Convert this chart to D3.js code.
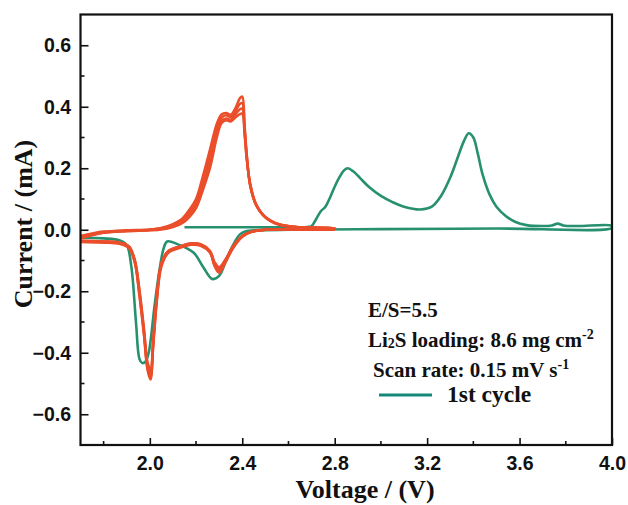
<!DOCTYPE html>
<html>
<head>
<meta charset="utf-8">
<script src="https://cdn.jsdelivr.net/npm/d3@7"></script>
<style>
  html, body { margin: 0; padding: 0; background: #fff; }
  svg { display: block; }
</style>
</head>
<body>
<div id="chart"></div>
<script>
// ---- data ----
const xTicks = [2.0, 2.4, 2.8, 3.2, 3.6, 4.0];
const xMinor = [1.8, 2.2, 2.6, 3.0, 3.4, 3.8];
const yTicks = [-0.6, -0.4, -0.2, 0.0, 0.2, 0.4, 0.6];
const yMinor = [-0.5, -0.3, -0.1, 0.1, 0.3, 0.5];

// 1st cycle (scan order: 2.15 V -> 4.0 V -> 1.7 V)
const cycle1V = [2.15, 2.40, 2.60, 2.68, 2.70, 2.72, 2.74, 2.76, 2.78, 2.80, 2.82, 2.84, 2.857, 2.88, 2.91, 2.95, 3.00, 3.05, 3.10, 3.17, 3.22, 3.26, 3.30, 3.33, 3.36, 3.38, 3.40, 3.42, 3.44, 3.47, 3.50, 3.54, 3.58, 3.63, 3.70, 3.74, 3.765, 3.79, 3.85, 4.00,
  4.00, 3.50, 3.00, 2.60, 2.45, 2.42, 2.39, 2.36, 2.33, 2.30, 2.27, 2.23, 2.19, 2.13, 2.075, 2.06, 2.04, 2.02, 1.995, 1.98, 1.966, 1.955, 1.94, 1.92, 1.90, 1.87, 1.80, 1.70];
const cycle1I = [0.008, 0.008, 0.008, 0.009, 0.012, 0.035, 0.06, 0.075, 0.105, 0.14, 0.17, 0.193, 0.200, 0.19, 0.168, 0.138, 0.11, 0.09, 0.075, 0.066, 0.075, 0.11, 0.17, 0.23, 0.29, 0.314, 0.30, 0.245, 0.18, 0.115, 0.075, 0.045, 0.026, 0.015, 0.012, 0.014, 0.02, 0.014, 0.012, 0.013,
  0.006, 0.004, 0.002, 0.0, -0.002, -0.004, -0.015, -0.05, -0.10, -0.15, -0.16, -0.12, -0.075, -0.05, -0.038, -0.06, -0.14, -0.25, -0.40, -0.43, -0.433, -0.42, -0.30, -0.12, -0.05, -0.035, -0.028, -0.026];

// following cycles (scan order: 1.7 V -> 2.8 V -> 1.7 V)
const laterV = [1.70, 1.75, 1.80, 1.90, 2.00, 2.05, 2.10, 2.14, 2.17, 2.20, 2.23, 2.26, 2.29, 2.31, 2.33, 2.35, 2.37, 2.39, 2.40, 2.41, 2.42, 2.435, 2.46, 2.50, 2.56, 2.65, 2.80,
  2.80, 2.60, 2.50, 2.44, 2.40, 2.36, 2.33, 2.30, 2.28, 2.26, 2.22, 2.18, 2.13, 2.08, 2.05, 2.03, 2.015, 2.003, 1.99, 1.975, 1.955, 1.935, 1.91, 1.87, 1.80, 1.70];
const cycle2I = [-0.020, -0.012, -0.006, -0.002, 0.001, 0.006, 0.018, 0.036, 0.064, 0.10, 0.175, 0.26, 0.345, 0.375, 0.38, 0.374, 0.395, 0.428, 0.433, 0.34, 0.24, 0.14, 0.08, 0.04, 0.016, 0.008, 0.004,
  0.002, 0.002, 0.0, -0.006, -0.02, -0.055, -0.095, -0.128, -0.11, -0.07, -0.048, -0.045, -0.055, -0.07, -0.11, -0.22, -0.36, -0.465, -0.44, -0.33, -0.20, -0.10, -0.055, -0.042, -0.038, -0.036];
const cycle3I = [-0.022, -0.014, -0.008, -0.003, 0.0, 0.005, 0.015, 0.031, 0.056, 0.09, 0.16, 0.24, 0.33, 0.364, 0.372, 0.366, 0.385, 0.41, 0.412, 0.33, 0.235, 0.142, 0.081, 0.041, 0.017, 0.008, 0.004,
  0.002, 0.002, 0.0, -0.007, -0.022, -0.058, -0.10, -0.135, -0.115, -0.072, -0.05, -0.047, -0.057, -0.073, -0.115, -0.23, -0.37, -0.478, -0.45, -0.34, -0.21, -0.105, -0.058, -0.044, -0.040, -0.038];
const cycle4I = [-0.025, -0.016, -0.009, -0.004, -0.001, 0.003, 0.012, 0.026, 0.048, 0.08, 0.145, 0.22, 0.315, 0.354, 0.362, 0.358, 0.375, 0.392, 0.394, 0.32, 0.23, 0.145, 0.082, 0.041, 0.017, 0.008, 0.004,
  0.002, 0.002, 0.0, -0.007, -0.023, -0.06, -0.102, -0.14, -0.118, -0.074, -0.052, -0.049, -0.059, -0.075, -0.12, -0.235, -0.375, -0.487, -0.455, -0.345, -0.215, -0.108, -0.06, -0.046, -0.042, -0.040];
const cycle5I = [-0.028, -0.018, -0.010, -0.005, -0.002, 0.001, 0.009, 0.021, 0.04, 0.07, 0.13, 0.20, 0.30, 0.346, 0.356, 0.352, 0.365, 0.376, 0.378, 0.31, 0.225, 0.147, 0.083, 0.042, 0.018, 0.008, 0.004,
  0.002, 0.002, 0.0, -0.006, -0.02, -0.054, -0.093, -0.122, -0.105, -0.068, -0.047, -0.044, -0.054, -0.069, -0.108, -0.215, -0.355, -0.455, -0.43, -0.325, -0.195, -0.098, -0.054, -0.042, -0.038, -0.036];

const laterCycles = [cycle2I, cycle3I, cycle4I, cycle5I];

// ---- layout ----
const W = 628, H = 505;
const L = 80.5, R = 612, T = 14.5, B = 445;
const green = "#27906f", orange = "#ea4e2b";

const svg = d3.select("#chart").append("svg").attr("width", W).attr("height", H);

const x = d3.scaleLinear().domain([1.7, 4.0]).range([L, R]);
const y = d3.scaleLinear().domain([-0.7, 0.7]).range([B, T]);

svg.append("clipPath").attr("id", "clip")
  .append("rect").attr("x", L).attr("y", T).attr("width", R - L).attr("height", B - T);

const line = d3.line().x(d => x(d[0])).y(d => y(d[1])).curve(d3.curveCatmullRom.alpha(0.5));

const plot = svg.append("g").attr("clip-path", "url(#clip)");

plot.append("path")
  .attr("d", line(cycle1V.map((v, i) => [v, cycle1I[i]])))
  .attr("fill", "none").attr("stroke", green).attr("stroke-width", 2.6)
  .attr("stroke-linejoin", "round");

laterCycles.forEach(c => {
  plot.append("path")
    .attr("d", line(laterV.map((v, i) => [v, c[i]])))
    .attr("fill", "none").attr("stroke", orange).attr("stroke-width", 2.5)
    .attr("stroke-linejoin", "round");
});

// ---- axes ----
const tickFont = "'Liberation Sans', Arial, sans-serif";
const xAxis = d3.axisBottom(x).tickValues(xTicks).tickFormat(d3.format(".1f")).tickSize(-7).tickPadding(11.5);
const gx = svg.append("g").attr("transform", `translate(0,${B})`).call(xAxis);
const yAxis = d3.axisLeft(y).tickValues(yTicks).tickFormat(d3.format(".1f")).tickSize(-8).tickPadding(9.5);
const gy = svg.append("g").attr("transform", `translate(${L},0)`).call(yAxis);

[gx, gy].forEach(g => {
  g.select(".domain").remove();
  g.selectAll(".tick line").attr("stroke", "#111").attr("stroke-width", 1.6);
  g.selectAll(".tick text").attr("font-family", tickFont).attr("font-weight", "bold")
    .attr("font-size", 19.5).attr("fill", "#111");
});

svg.append("g").selectAll("line").data(xMinor).join("line")
  .attr("x1", d => x(d)).attr("x2", d => x(d)).attr("y1", B).attr("y2", B - 4)
  .attr("stroke", "#111").attr("stroke-width", 1.6);
svg.append("g").selectAll("line").data(yMinor).join("line")
  .attr("y1", d => y(d)).attr("y2", d => y(d)).attr("x1", L).attr("x2", L + 4)
  .attr("stroke", "#111").attr("stroke-width", 1.6);

svg.append("rect").attr("x", L).attr("y", T).attr("width", R - L).attr("height", B - T)
  .attr("fill", "none").attr("stroke", "#111").attr("stroke-width", 2.2);

// ---- titles ----
const serif = "'Liberation Serif', 'Times New Roman', serif";
svg.append("text").attr("x", 365).attr("y", 498).attr("text-anchor", "middle")
  .attr("font-family", serif).attr("font-weight", "bold").attr("font-size", 26).attr("fill", "#111")
  .text("Voltage / (V)");
svg.append("text").attr("transform", "translate(32,224) rotate(-90)").attr("text-anchor", "middle")
  .attr("font-family", serif).attr("font-weight", "bold").attr("font-size", 26).attr("fill", "#111")
  .text("Current / (mA)");

// ---- annotations ----
const ann = svg.append("g").attr("font-family", serif).attr("font-weight", "bold").attr("fill", "#111");
ann.append("text").attr("x", 368).attr("y", 317).attr("font-size", 21).text("E/S=5.5");

const t2 = ann.append("text").attr("x", 368).attr("y", 347).attr("font-size", 21);
t2.append("tspan").text("Li");
t2.append("tspan").attr("font-size", 14).attr("dy", 1).text("2");
t2.append("tspan").attr("dy", -1).text("S loading: 8.6 mg cm");
t2.append("tspan").attr("font-size", 14).attr("dy", -8).text("-2");

const t3 = ann.append("text").attr("x", 373).attr("y", 377).attr("font-size", 21);
t3.append("tspan").text("Scan rate: 0.15 mV s");
t3.append("tspan").attr("font-size", 14).attr("dy", -8).text("-1");

svg.append("line").attr("x1", 379).attr("x2", 432).attr("y1", 395).attr("y2", 395)
  .attr("stroke", "#17897a").attr("stroke-width", 3);
ann.append("text").attr("x", 447).attr("y", 402).attr("font-size", 23.5).text("1st cycle");
</script>
</body>
</html>
